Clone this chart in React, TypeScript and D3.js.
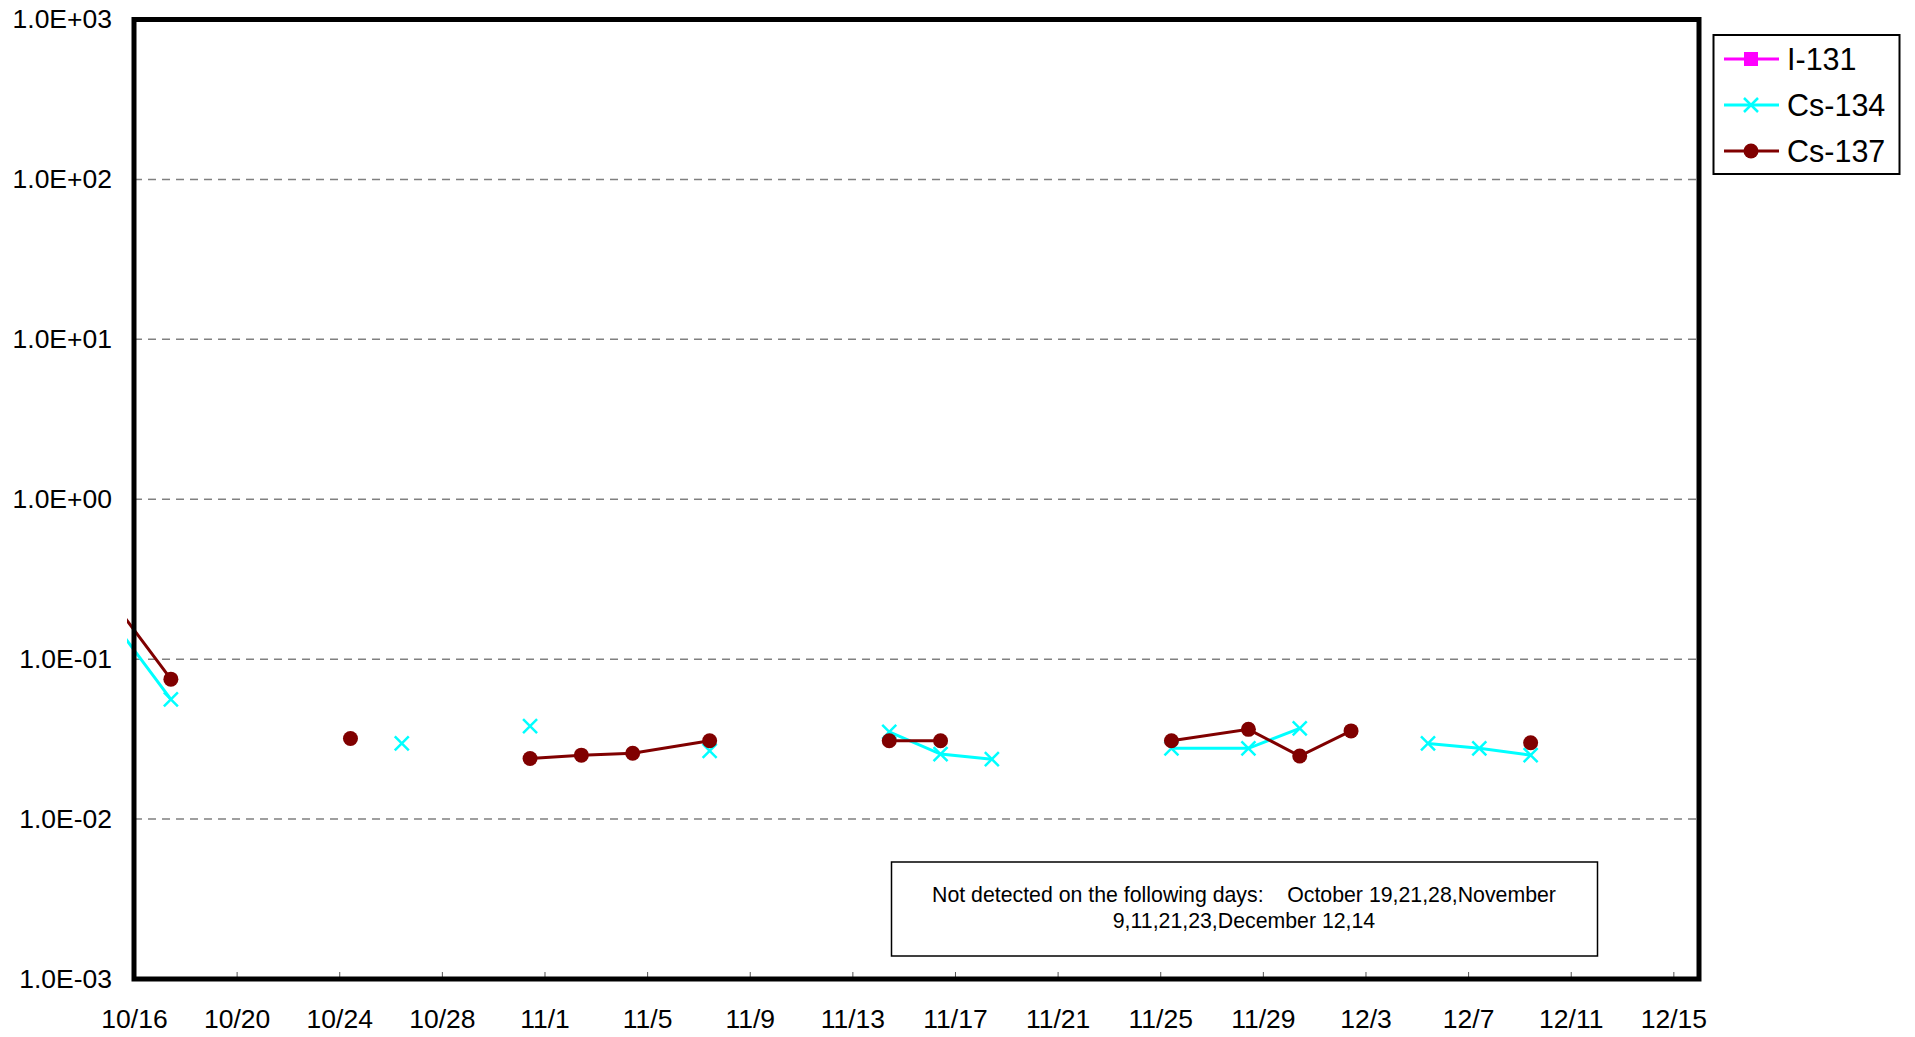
import React, { useEffect, useRef } from "react";
import * as d3 from "d3";

// sampling days (2011); a sample is taken in the morning
const sampleDates = [
  "2011-10-14", "2011-10-17", "2011-10-19", "2011-10-21", "2011-10-24", "2011-10-26",
  "2011-10-28", "2011-10-31", "2011-11-02", "2011-11-04", "2011-11-07", "2011-11-09",
  "2011-11-11", "2011-11-14", "2011-11-16", "2011-11-18", "2011-11-21", "2011-11-23",
  "2011-11-25", "2011-11-28", "2011-11-30", "2011-12-02", "2011-12-05", "2011-12-07",
  "2011-12-09", "2011-12-12", "2011-12-14",
];
const sampleHour = 10.5;

// null = not detected
const i131: (number | null)[] = sampleDates.map(() => null);
const cs134: (number | null)[] = [
  0.248, 0.056, null, null, null, 0.0297, null, 0.0381, null, null, 0.0267, null,
  null, 0.0351, 0.0255, 0.0237, null, null, 0.0277, 0.0277, 0.0369, null, 0.0297, 0.0277,
  0.0251, null, null,
];
const cs137: (number | null)[] = [
  0.329, 0.075, null, null, 0.0319, null, null, 0.0239, 0.0251, 0.0258, 0.0309, null,
  null, 0.0309, 0.0309, null, null, null, 0.0309, 0.0364, 0.0248, 0.0356, null, null,
  0.03, null, null,
];

const seriesNames = ["I-131", "Cs-134", "Cs-137"];
const seriesColors = ["#ff00ff", "#00ffff", "#800000"];
const seriesMarkers = ["square", "cross", "circle"];

const xStart = "2011-10-16";
const xEnd = "2011-12-16";
const xTickStep = 4;
const yTicks = [1e-3, 1e-2, 1e-1, 1, 10, 100, 1000];

const noteLines = [
  "Not detected on the following days:    October 19,21,28,November",
  "9,11,21,23,December 12,14",
];

const W = 1915;
const H = 1037;
const FONT = "'Liberation Sans', Arial, sans-serif";

const fmtExp = (v: number) => {
  const e = Math.round(Math.log10(v));
  return "1.0E" + (e >= 0 ? "+" : "-") + String(Math.abs(e)).padStart(2, "0");
};

const App = () => {
  const ref = useRef<SVGSVGElement>(null);

  useEffect(() => {
    const svg = d3.select(ref.current);
    svg.selectAll("*").remove();

    const left = 134, right = 1699, top = 19.5, bottom = 979;
    const parse = d3.utcParse("%Y-%m-%d");

    const x = d3
      .scaleUtc()
      .domain([parse(xStart)!, parse(xEnd)!])
      .range([left, right]);
    const y = d3.scaleLog().domain([1e-3, 1e3]).range([bottom, top]);

    // gridlines
    svg
      .append("g")
      .selectAll("line")
      .data(yTicks.slice(1, -1))
      .join("line")
      .attr("x1", left)
      .attr("x2", right)
      .attr("y1", (d) => y(d))
      .attr("y2", (d) => y(d))
      .attr("stroke", "#808080")
      .attr("stroke-width", 1.5)
      .attr("stroke-dasharray", "8,6");

    // x axis
    const tickDates = d3.range(0, 61, xTickStep).map((i) => d3.utcDay.offset(parse(xStart)!, i));
    const xAxis = svg
      .append("g")
      .attr("transform", "translate(0," + bottom + ")")
      .call(
        d3
          .axisBottom(x)
          .tickValues(tickDates)
          .tickFormat(d3.utcFormat("%-m/%-d") as any)
          .tickSize(-7)
          .tickSizeOuter(0)
          .tickPadding(30)
      );
    xAxis.select(".domain").remove();
    xAxis.selectAll("line").attr("stroke", "#555").attr("stroke-width", 1);
    xAxis.selectAll("text").attr("font-family", FONT).attr("font-size", 26.5).attr("fill", "#000");

    // y axis
    const yAxis = svg
      .append("g")
      .attr("transform", "translate(" + left + ",0)")
      .call(d3.axisLeft(y).tickValues(yTicks).tickFormat(fmtExp as any).tickSize(0).tickPadding(22));
    yAxis.select(".domain").remove();
    yAxis.selectAll("text").attr("font-family", FONT).attr("font-size", 26.5).attr("fill", "#000");

    // series
    const clipId = "plotclip";
    svg
      .append("clipPath")
      .attr("id", clipId)
      .append("rect")
      .attr("x", left - 7)
      .attr("y", top)
      .attr("width", right - left + 7)
      .attr("height", bottom - top);

    const times = sampleDates.map((s) => new Date(parse(s)!.getTime() + sampleHour * 3600e3));
    const allSeries = [i131, cs134, cs137];

    const drawMarker = (g: any, kind: string, color: string, cx: number, cy: number) => {
      if (kind === "square") {
        g.append("rect").attr("x", cx - 7).attr("y", cy - 7).attr("width", 14).attr("height", 14).attr("fill", color);
      } else if (kind === "cross") {
        const s = 7;
        g.append("path")
          .attr("d", `M${cx - s},${cy - s}L${cx + s},${cy + s}M${cx - s},${cy + s}L${cx + s},${cy - s}`)
          .attr("stroke", color)
          .attr("stroke-width", 2.5)
          .attr("fill", "none");
      } else {
        g.append("circle").attr("cx", cx).attr("cy", cy).attr("r", 7.5).attr("fill", color);
      }
    };

    allSeries.forEach((vals, si) => {
      const pts = vals.map((v, i) => ({ t: times[i], v }));
      const g = svg.append("g").attr("clip-path", `url(#${clipId})`);
      const line = d3
        .line<{ t: Date; v: number | null }>()
        .defined((d) => d.v != null)
        .x((d) => x(d.t))
        .y((d) => y(d.v as number));
      g.append("path")
        .datum(pts)
        .attr("d", line)
        .attr("fill", "none")
        .attr("stroke", seriesColors[si])
        .attr("stroke-width", 3);
      pts
        .filter((d) => d.v != null && x(d.t) >= left)
        .forEach((d) => drawMarker(g, seriesMarkers[si], seriesColors[si], x(d.t), y(d.v as number)));
    });

    // frame
    svg
      .append("rect")
      .attr("x", left)
      .attr("y", top)
      .attr("width", right - left)
      .attr("height", bottom - top)
      .attr("fill", "none")
      .attr("stroke", "#000")
      .attr("stroke-width", 5);

    // note box
    const note = svg.append("g");
    note
      .append("rect")
      .attr("x", 891.5)
      .attr("y", 862)
      .attr("width", 706)
      .attr("height", 94)
      .attr("fill", "#fff")
      .attr("stroke", "#000")
      .attr("stroke-width", 1.5);
    note
      .selectAll("text")
      .data(noteLines)
      .join("text")
      .attr("x", 1244)
      .attr("y", (d, i) => 902 + i * 25.5)
      .attr("text-anchor", "middle")
      .attr("font-family", FONT)
      .attr("font-size", 21.3)
      .style("white-space", "pre")
      .text((d) => d);

    // legend
    const legend = svg.append("g");
    legend
      .append("rect")
      .attr("x", 1713.5)
      .attr("y", 35)
      .attr("width", 186)
      .attr("height", 139)
      .attr("fill", "#fff")
      .attr("stroke", "#000")
      .attr("stroke-width", 2);
    seriesNames.forEach((name, i) => {
      const cy = 59 + i * 46;
      const row = legend.append("g");
      row
        .append("line")
        .attr("x1", 1724)
        .attr("x2", 1779)
        .attr("y1", cy)
        .attr("y2", cy)
        .attr("stroke", seriesColors[i])
        .attr("stroke-width", 3);
      drawMarker(row, seriesMarkers[i], seriesColors[i], 1751, cy);
      row
        .append("text")
        .attr("x", 1787)
        .attr("y", cy)
        .attr("dy", "0.35em")
        .attr("font-family", FONT)
        .attr("font-size", 30.5)
        .text(name);
    });
  }, []);

  return (
    <div style={{ position: "absolute", left: 0, top: 0 }}>
      <svg ref={ref} width={W} height={H} style={{ display: "block", background: "#fff" }}></svg>
    </div>
  );
};

export default App;
